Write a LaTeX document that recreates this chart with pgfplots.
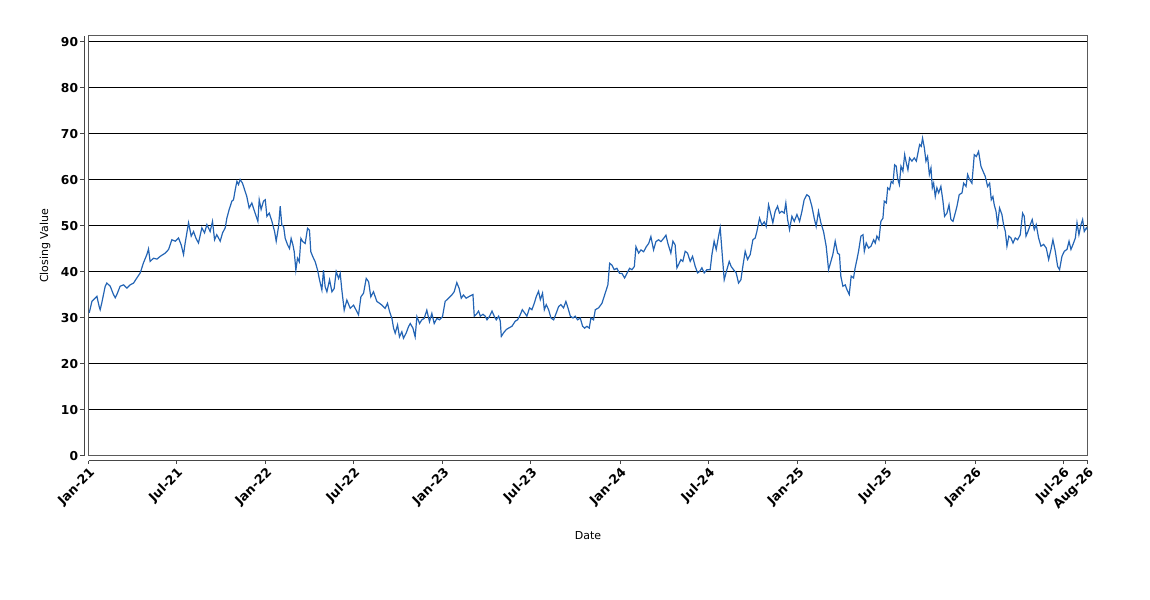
\documentclass[border=0pt]{standalone}
\usepackage{fontspec}
\setmainfont{DejaVu Sans}
\usepackage{pgfplots}
\pgfplotsset{compat=1.18}
\usepackage{pgfplotstable}
\definecolor{lineblue}{RGB}{35,100,180}
\definecolor{bordergray}{RGB}{90,90,90}
\definecolor{axisgray}{RGB}{70,70,70}

% x = months since 1 Jan 2021, v = closing value
\pgfplotstableread{
m v
0.05 31.1
0.23 33.6
0.57 34.7
0.72 32.5
0.79 31.8
0.90 33.3
1.13 36.9
1.24 37.6
1.47 36.9
1.69 35.1
1.81 34.4
1.92 35.1
2.14 36.9
2.37 37.2
2.60 36.5
2.82 37.2
3.05 37.6
3.27 38.7
3.50 39.8
3.72 42.0
3.95 43.8
4.06 45.0
4.17 42.3
4.40 43.0
4.63 42.8
4.85 43.4
5.19 44.1
5.42 44.9
5.64 47.0
5.87 46.7
6.09 47.4
6.27 45.9
6.43 43.8
6.54 46.3
6.77 50.7
6.95 47.8
7.11 48.8
7.26 47.4
7.44 46.3
7.67 49.6
7.85 48.5
8.01 50.3
8.23 48.8
8.39 51.0
8.53 47.0
8.68 48.1
8.91 46.7
9.07 48.5
9.25 49.6
9.36 51.7
9.52 53.6
9.70 55.4
9.81 55.7
9.93 57.9
10.04 59.7
10.15 59.0
10.26 60.1
10.42 59.3
10.56 57.9
10.71 56.4
10.87 53.9
11.05 55.0
11.23 53.2
11.46 51.0
11.55 55.7
11.68 53.6
11.84 55.4
11.96 55.7
12.07 52.1
12.23 52.8
12.41 51.0
12.59 48.8
12.70 46.7
12.86 49.9
12.97 54.3
13.08 50.2
13.20 49.9
13.31 47.3
13.47 45.9
13.60 45.1
13.71 47.3
13.83 45.9
13.92 44.4
14.03 40.4
14.14 43.0
14.26 42.2
14.37 47.3
14.50 46.6
14.66 46.2
14.82 49.5
14.95 49.1
15.04 44.4
15.18 43.3
15.34 42.2
15.50 40.4
15.63 38.3
15.79 36.1
15.90 40.4
16.01 36.8
16.13 35.7
16.31 38.3
16.47 35.7
16.62 36.4
16.76 40.1
16.92 38.6
17.03 39.7
17.14 36.1
17.30 31.7
17.48 33.9
17.71 32.1
17.93 32.8
18.11 31.7
18.27 30.7
18.43 34.6
18.61 35.4
18.79 38.6
18.95 37.9
19.10 34.6
19.28 35.7
19.51 33.6
19.69 33.2
19.85 32.8
20.07 32.1
20.23 33.2
20.37 31.4
20.53 29.9
20.64 27.8
20.75 26.7
20.91 28.5
21.04 25.9
21.20 27.0
21.31 25.6
21.49 26.7
21.65 28.1
21.77 28.8
21.95 27.8
22.10 25.9
22.22 30.3
22.40 28.8
22.55 29.6
22.71 29.9
22.89 31.7
23.07 29.2
23.23 31.0
23.39 28.8
23.57 29.9
23.75 29.6
23.95 30.3
24.13 33.6
24.36 34.3
24.58 35.0
24.74 35.7
24.92 37.7
25.08 36.4
25.22 34.3
25.37 35.0
25.55 34.3
25.71 34.6
25.94 35.0
26.01 35.1
26.10 30.4
26.24 30.8
26.39 31.5
26.51 30.4
26.69 30.8
26.84 30.4
26.96 29.6
27.14 30.4
27.30 31.5
27.45 30.4
27.59 29.6
27.75 30.4
27.86 29.3
27.93 26.0
28.09 26.8
28.27 27.5
28.42 27.8
28.65 28.2
28.87 29.3
29.03 29.6
29.21 30.7
29.35 31.8
29.51 31.1
29.66 30.4
29.84 32.2
30.00 31.8
30.16 33.2
30.30 34.7
30.45 35.8
30.57 34.0
30.72 35.4
30.84 31.8
30.97 32.9
31.13 31.8
31.29 30.0
31.47 29.6
31.65 31.1
31.81 32.5
31.96 32.9
32.14 32.2
32.30 33.6
32.44 32.2
32.60 30.4
32.78 30.0
32.93 30.4
33.09 29.6
33.27 30.0
33.43 28.2
33.57 27.8
33.72 28.2
33.88 27.8
33.99 30.0
34.17 29.6
34.29 31.8
34.51 32.2
34.74 33.2
34.85 34.3
35.03 36.1
35.14 37.2
35.26 41.9
35.41 41.5
35.57 40.5
35.75 40.8
35.93 39.7
36.09 39.7
36.27 38.7
36.43 39.7
36.61 40.8
36.77 40.5
36.93 41.2
37.04 45.5
37.22 44.1
37.38 44.8
37.56 44.4
37.74 45.5
37.90 46.2
38.05 47.7
38.23 44.8
38.39 46.6
38.57 47.0
38.73 46.6
38.91 47.3
39.07 48.0
39.20 46.2
39.40 44.1
39.54 46.7
39.69 45.9
39.81 40.9
39.92 41.6
40.08 42.7
40.21 42.3
40.37 44.5
40.53 44.1
40.71 42.3
40.87 43.4
41.05 41.2
41.21 39.8
41.34 40.1
41.50 40.9
41.66 39.8
41.84 40.5
42.06 40.5
42.18 43.8
42.33 46.7
42.47 44.9
42.63 47.8
42.74 49.6
42.87 44.1
43.01 38.3
43.19 40.5
43.35 42.3
43.48 41.2
43.64 40.5
43.82 39.8
43.98 37.6
44.14 38.3
44.27 41.2
44.43 44.5
44.59 42.7
44.77 43.8
44.95 47.0
45.11 47.4
45.22 48.8
45.40 51.7
45.56 50.2
45.72 50.9
45.85 49.9
46.01 54.6
46.17 52.5
46.30 50.7
46.46 53.2
46.62 54.3
46.75 52.8
46.91 53.2
47.07 52.8
47.18 55.0
47.30 51.4
47.43 49.2
47.59 52.1
47.75 51.0
47.93 52.5
48.11 51.0
48.27 53.2
48.42 55.7
48.60 56.8
48.76 56.4
48.94 54.3
49.10 51.7
49.23 49.9
49.39 53.2
49.55 50.7
49.73 48.8
49.91 45.6
50.07 40.5
50.23 42.3
50.36 43.8
50.52 46.7
50.68 44.1
50.81 43.8
50.90 39.1
51.04 36.9
51.20 37.2
51.31 36.2
51.47 35.1
51.60 39.1
51.76 38.7
51.87 40.9
51.99 42.7
52.10 44.5
52.26 47.8
52.40 48.1
52.49 44.5
52.62 46.3
52.78 45.2
52.94 45.6
53.12 47.0
53.23 46.3
53.34 47.8
53.48 47.0
53.61 51.0
53.75 51.7
53.84 55.4
53.98 55.0
54.07 58.3
54.20 57.9
54.31 59.7
54.43 59.3
54.54 63.3
54.65 63.0
54.74 60.4
54.86 59.0
54.97 63.0
55.10 61.9
55.22 65.5
55.33 63.7
55.44 62.2
55.55 64.8
55.71 64.1
55.87 64.8
56.01 64.1
56.12 65.9
56.23 67.7
56.34 67.3
56.43 69.1
56.55 67.0
56.66 64.1
56.77 65.1
56.89 61.2
57.00 62.6
57.09 58.3
57.18 59.3
57.29 56.4
57.40 58.3
57.52 57.2
57.67 58.6
57.81 55.4
57.92 52.1
58.08 52.8
58.22 54.6
58.35 51.4
58.49 51.0
58.64 52.8
58.76 54.3
58.91 56.8
59.10 57.2
59.21 59.3
59.37 58.6
59.48 61.2
59.61 60.1
59.77 59.3
59.93 65.5
60.07 65.1
60.22 66.2
60.38 63.0
60.52 61.9
60.67 60.8
60.83 58.6
60.97 59.3
61.08 55.7
61.19 56.4
61.28 54.6
61.40 53.2
61.51 50.3
61.64 53.9
61.80 52.5
61.91 50.3
62.03 48.8
62.14 45.6
62.27 47.8
62.41 47.4
62.55 46.3
62.70 47.4
62.86 47.0
63.04 48.1
63.20 52.8
63.31 52.1
63.43 47.8
63.56 48.8
63.72 50.3
63.85 51.4
63.99 49.2
64.12 50.3
64.28 47.4
64.44 45.6
64.62 46.0
64.80 45.2
64.96 42.7
65.12 44.9
65.25 47.0
65.41 44.5
65.57 41.2
65.70 40.5
65.86 43.4
66.02 44.5
66.20 44.9
66.34 46.7
66.47 44.9
66.61 46.0
66.77 47.4
66.88 50.7
67.01 48.1
67.15 50.3
67.26 51.4
67.37 48.8
67.51 49.6
67.59 49.2
}\closing

\begin{document}
\begin{tikzpicture}
\useasboundingbox (0pt,0pt) rectangle (862.5pt,450pt);
% plot area with grid and data
\begin{axis}[
  at={(66.375pt,108pt)}, anchor=south west,
  width=749.25pt, height=315pt, scale only axis,
  xmin=0, xmax=67.59, ymin=0, ymax=91.3,
  axis line style={bordergray, line width=0.75pt},
  xtick=\empty, ytick={10,20,...,90}, yticklabels={},
  major tick length=0pt,
  ymajorgrids, grid style={black, line width=0.75pt},
]
\addplot[lineblue, line width=0.9pt] table[x=m,y=v]{\closing};
\end{axis}
% offset y axis
\begin{axis}[
  at={(63.225pt,108pt)}, anchor=south west,
  width=749.25pt, height=315pt, scale only axis,
  xmin=0, xmax=1, ymin=0, ymax=91.3,
  axis x line=none, axis y line*=left,
  axis line style={axisgray, line width=0.75pt, -},
  ytick={0,10,...,90},
  tick align=outside, major tick length=3pt,
  tick style={axisgray, line width=0.75pt},
  yticklabel style={font=\fontsize{9.2}{11}\selectfont\bfseries, inner sep=1.5pt},
  /pgf/number format/assume math mode=true,
]
\end{axis}
% offset x axis
\begin{axis}[
  at={(66.375pt,104.25pt)}, anchor=south west,
  width=749.25pt, height=315pt, scale only axis,
  xmin=0, xmax=67.59, ymin=0, ymax=1,
  axis y line=none, axis x line*=bottom,
  axis line style={axisgray, line width=0.75pt, -},
  xtick={0,5.947,11.992,17.939,23.984,29.931,35.976,41.956,48.001,53.948,59.993,65.940,67.59},
  xticklabels={Jan-21,Jul-21,Jan-22,Jul-22,Jan-23,Jul-23,Jan-24,Jul-24,Jan-25,Jul-25,Jan-26,Jul-26,Aug-26},
  tick align=outside, major tick length=2pt,
  tick style={axisgray, line width=0.75pt},
  xticklabel style={font=\fontsize{9.5}{11}\selectfont\bfseries, rotate=45, anchor=north east, inner sep=1.5pt},
]
\end{axis}
\node[font=\fontsize{8.25}{10}\selectfont, rotate=90] at (33.75pt,265.5pt) {Closing Value};
\node[font=\fontsize{8.25}{10}\selectfont] at (441pt,48pt) {Date};
\end{tikzpicture}
\end{document}
